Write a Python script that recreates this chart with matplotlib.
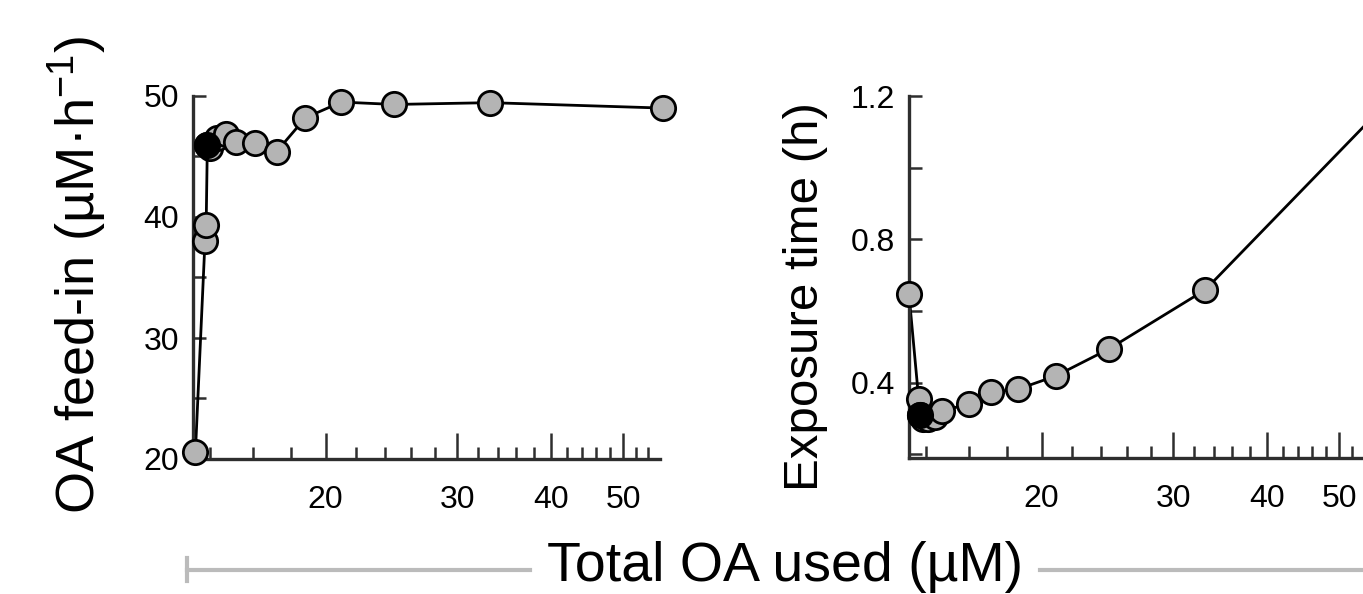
import matplotlib
matplotlib.use("Agg")
from matplotlib import pyplot as plt
from matplotlib.ticker import FixedLocator, NullFormatter, FixedFormatter
from matplotlib.lines import Line2D

plt.rcParams['font.family'] = ['Liberation Sans', 'DejaVu Sans']
plt.rcParams['mathtext.fontset'] = 'custom'
plt.rcParams['mathtext.rm'] = 'Liberation Sans'
plt.rcParams['mathtext.it'] = 'Liberation Sans'

# left panel: feed-in vs total OA used
oa_left = [13.4, 13.8, 13.85, 13.9, 14.0, 14.3, 14.7, 15.2, 16.1, 17.2, 18.8, 21.0, 24.7, 33.2, 56.6]
feed_in = [20.6, 38.0, 39.3, 45.95, 45.7, 46.5, 46.9, 46.2, 46.1, 45.4, 48.2, 49.5, 49.3, 49.45, 49.0]
black_left = 3

# right panel: exposure time vs total OA used
oa_right = [13.3, 13.7, 13.75, 13.9, 14.1, 14.4, 14.7, 16.0, 17.1, 18.6, 20.9, 24.6, 33.1, 56.6]
exposure = [0.647, 0.356, 0.310, 0.300, 0.300, 0.305, 0.320, 0.342, 0.373, 0.382, 0.419, 0.494, 0.659, 1.16]
black_right = 2

x_major = [20, 30, 40, 50]
x_minor = [14, 16, 18, 22, 24, 26, 28, 32, 34, 36, 38, 42, 44, 46, 48, 52, 54]
left_yticks = [20, 25, 30, 35, 40, 45, 50]
left_ylabels = ['20', '', '30', '', '40', '', '50']
right_yticks = [0.2, 0.4, 0.6, 0.8, 1.0, 1.2]
right_ylabels = ['', '0.4', '', '0.8', '', '1.2']

W, H = 1363, 594
fig = plt.figure(figsize=(W / 100, H / 100), dpi=100)

spine_col = '#2e2e2e'
gray = '#b4b4b4'


def style_axis(ax, yticks, ylabels, ylim):
    ax.set_xscale('log')
    ax.set_xlim(13.3, 56)
    ax.set_ylim(*ylim)
    for s in ['top', 'right']:
        ax.spines[s].set_visible(False)
    for s in ['left', 'bottom']:
        ax.spines[s].set_linewidth(2.4)
        ax.spines[s].set_color(spine_col)
    ax.xaxis.set_major_locator(FixedLocator(x_major))
    ax.xaxis.set_major_formatter(FixedFormatter([str(v) for v in x_major]))
    ax.xaxis.set_minor_locator(FixedLocator(x_minor))
    ax.xaxis.set_minor_formatter(NullFormatter())
    ax.set_yticks(yticks)
    ax.set_yticklabels(ylabels)
    ax.tick_params(axis='x', which='major', direction='in', length=19, width=1.8,
                   color=spine_col, labelsize=23, pad=19)
    ax.tick_params(axis='x', which='minor', direction='in', length=9, width=1.8,
                   color=spine_col)
    ax.tick_params(axis='y', which='major', direction='in', length=9, width=1.8,
                   color=spine_col, labelsize=23, pad=10)


def draw_series(ax, x, y, bi):
    ax.plot(x, y, color='black', lw=2.0, zorder=2, clip_on=False)
    ax.plot(x, y, 'o', ms=17.5, mfc=gray, mec='black', mew=2.0, zorder=3, clip_on=False)
    ax.plot([x[bi]], [y[bi]], 'o', ms=17.5, mfc='black', mec='black', mew=2.0, zorder=4, clip_on=False)


ax1 = fig.add_axes([193 / W, 1 - 459 / H, 467 / W, 363 / H])
style_axis(ax1, left_yticks, left_ylabels, (20, 50))
draw_series(ax1, oa_left, feed_in, black_left)

ax2 = fig.add_axes([909 / W, 1 - 458 / H, 467 / W, 362 / H])
style_axis(ax2, right_yticks, right_ylabels, (0.19, 1.2))
draw_series(ax2, oa_right, exposure, black_right)

fig.text(78 / W, 1 - 275 / H, 'OA feed-in (µM·h$^{-1}$)', rotation=90,
         ha='center', va='center', fontsize=39)
fig.text(805 / W, 1 - 297 / H, 'Exposure time (h)', rotation=90,
         ha='center', va='center', fontsize=35.5)

# shared x label with grey bracket lines
fig.text(785 / W, 1 - 567 / H, 'Total OA used (µM)', ha='center', va='center', fontsize=40)
line_col = '#bbbbbb'
fig.add_artist(Line2D([187 / W, 530 / W], [1 - 570 / H, 1 - 570 / H], color=line_col, lw=3))
fig.add_artist(Line2D([187 / W, 187 / W], [1 - 558 / H, 1 - 581 / H], color=line_col, lw=3))
fig.add_artist(Line2D([1040 / W, 1.0], [1 - 570 / H, 1 - 570 / H], color=line_col, lw=3))

fig.savefig('out.png', dpi=100)
